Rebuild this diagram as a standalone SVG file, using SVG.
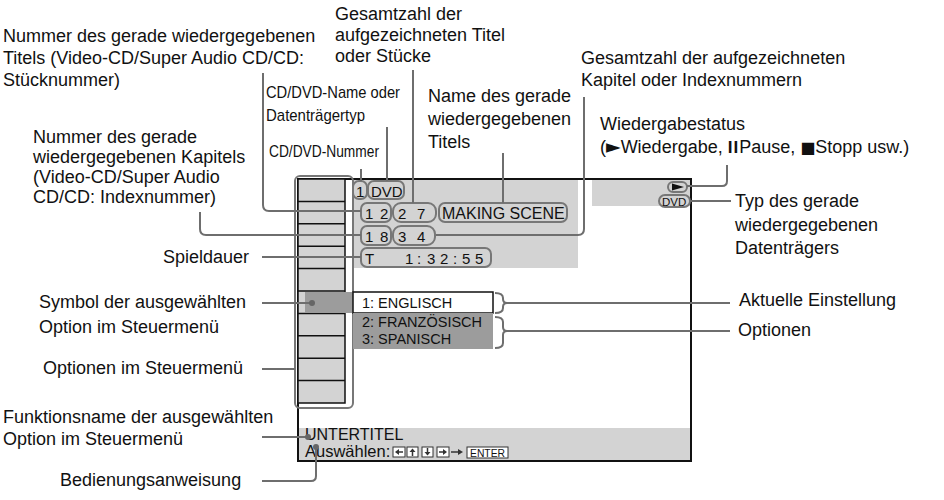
<svg xmlns="http://www.w3.org/2000/svg" width="944" height="500" viewBox="0 0 944 500">
<style>
.lbl{font-family:"Liberation Sans",Arial,sans-serif;font-size:18px;fill:#111}
.scr{font-family:"Liberation Sans",Arial,sans-serif;font-size:15px;fill:#111}
.cond{font-family:"Liberation Sans",Arial,sans-serif;fill:#111}
.sym{font-family:"DejaVu Sans",sans-serif}
.pill{fill:none;stroke:#777;stroke-width:2}
.con{fill:none;stroke:#6e6e6e;stroke-width:2;stroke-linejoin:round}
.dot{fill:#666}
.cellline{stroke:#111;stroke-width:1.5}
.key{fill:#fff;stroke:#333;stroke-width:1}
.keyg{fill:#333}
</style>
<rect width="944" height="500" fill="#fff"/>

<g id="screen">
  <rect x="298" y="179" width="393" height="282" fill="#fff" stroke="#111" stroke-width="2"/>
  <rect x="352" y="180" width="226" height="88" fill="#d3d3d3"/>
  <rect x="592" y="180" width="98" height="26" fill="#d3d3d3"/>
  <rect x="299" y="428" width="391" height="32" fill="#d3d3d3"/>
</g>

<g id="menu-column">
  <rect x="295" y="176" width="58" height="232" rx="5" class="pill"/>
  <rect x="298" y="179" width="47" height="224" fill="#d3d3d3" stroke="#111" stroke-width="1.5"/>
  <g class="cellline">
    <line x1="298" y1="201.4" x2="345" y2="201.4"/>
    <line x1="298" y1="223.8" x2="345" y2="223.8"/>
    <line x1="298" y1="246.2" x2="345" y2="246.2"/>
    <line x1="298" y1="268.6" x2="345" y2="268.6"/>
    <line x1="298" y1="291" x2="345" y2="291"/>
    <line x1="298" y1="313.4" x2="345" y2="313.4"/>
    <line x1="298" y1="335.8" x2="345" y2="335.8"/>
    <line x1="298" y1="358.2" x2="345" y2="358.2"/>
    <line x1="298" y1="380.6" x2="345" y2="380.6"/>
  </g>
  <rect x="305" y="292" width="48" height="21" fill="#9c9c9c"/>
</g>

<g id="options">
  <rect x="353" y="292" width="140" height="21" fill="#fff" stroke="#111" stroke-width="1.5"/>
  <rect x="353" y="313" width="140" height="36" fill="#9c9c9c"/>
  <text class="scr" x="362" y="308" style="font-size:14.5px">1: ENGLISCH</text>
  <text class="scr" x="362" y="327" style="font-size:14.5px">2: FRANZÖSISCH</text>
  <text class="scr" x="362" y="344" style="font-size:14.5px">3: SPANISCH</text>
</g>

<g id="display-info">
  <rect x="353" y="181" width="14" height="18" rx="6" class="pill"/>
  <text class="scr" x="356" y="197">1</text>
  <rect x="368" y="181" width="36" height="18" rx="6" class="pill"/>
  <text class="scr" x="371" y="197">DVD</text>

  <rect x="361" y="203" width="30" height="19" rx="6" class="pill"/>
  <text class="scr" x="365 380" y="219">12</text>
  <rect x="393" y="203" width="43" height="19" rx="8" class="pill"/>
  <text class="scr" x="398 417" y="219">27</text>
  <rect x="439" y="203" width="128" height="19" rx="6" class="pill"/>
  <text class="scr" x="442" y="219" style="font-size:16px">MAKING SCENE</text>

  <rect x="361" y="226" width="30" height="19" rx="6" class="pill"/>
  <text class="scr" x="365 380" y="242">18</text>
  <rect x="393" y="226" width="42" height="19" rx="8" class="pill"/>
  <text class="scr" x="398 417" y="242">34</text>

  <rect x="361" y="248" width="130" height="19" rx="6" class="pill"/>
  <text class="scr" x="365" y="264">T</text>
  <text class="scr" x="405 417 427 440 453 462 475" y="264">1:32:55</text>

  <rect x="668" y="182" width="19" height="10" rx="5" class="pill"/>
  <polygon points="672,183.5 684,187 672,190.5" fill="#111"/>
  <rect x="659" y="195" width="31" height="12" rx="6" class="pill"/>
  <text class="scr" x="662" y="205.5" style="font-size:11.5px">DVD</text>
</g>

<g id="bottom-panel">
  <text class="scr" x="305" y="440" style="font-size:16px">UNTERTITEL</text>
  <text class="scr" x="305" y="457" style="font-size:16.5px">Auswählen:</text>
  <rect class="key" x="393" y="447" width="12" height="10"/>
  <polygon class="keyg" points="395,452 399,449 399,455"/>
  <line x1="399" y1="452" x2="403" y2="452" stroke="#333" stroke-width="1.5"/>
  <rect class="key" x="407" y="447" width="11" height="10"/>
  <polygon class="keyg" points="412.5,448.5 409.5,452 415.5,452"/>
  <line x1="412.5" y1="452" x2="412.5" y2="456" stroke="#333" stroke-width="1.5"/>
  <rect class="key" x="422" y="447" width="11" height="10"/>
  <polygon class="keyg" points="427.5,455.5 424.5,452 430.5,452"/>
  <line x1="427.5" y1="448" x2="427.5" y2="452" stroke="#333" stroke-width="1.5"/>
  <rect class="key" x="437" y="447" width="12" height="10"/>
  <polygon class="keyg" points="447,452 443,449 443,455"/>
  <line x1="439" y1="452" x2="443" y2="452" stroke="#333" stroke-width="1.5"/>
  <line x1="451" y1="452" x2="458" y2="452" stroke="#333" stroke-width="1.5"/>
  <polygon class="keyg" points="463,452 458,449 458,455"/>
  <rect class="key" x="467" y="447" width="41" height="11"/>
  <text class="cond" x="470" y="456.5" style="font-size:11px" textLength="35" lengthAdjust="spacingAndGlyphs">ENTER</text>
</g>

<g id="connectors">
  <g class="con">
    <path d="M263,73 V205 Q263,211 269,211 H361"/>
    <path d="M200,212 V229 Q200,235 206,235 H361"/>
    <path d="M262,257 H361"/>
    <path d="M262,303 H312"/>
    <path d="M262,369 H295"/>
    <path d="M262,437 H308"/>
    <path d="M262,481 H311 Q316,481 316,476 V447"/>
    <path d="M413,70 V203"/>
    <path d="M387,127 V181"/>
    <path d="M361,169 V181"/>
    <path d="M503,153 V203"/>
    <path d="M584,97 V229 Q584,235 578,235 H436"/>
    <path d="M687,186 H722 Q727,186 727,181 V165"/>
    <path d="M690,201 H731"/>
    <path d="M495,293 Q503,293 503,298 V299 Q503,303 507,303 Q503,303 503,307 V308 Q503,313 495,313"/>
    <path d="M507,303 H730"/>
    <path d="M495,317 Q503,317 503,322 V327 Q503,331 507,331 Q503,331 503,335 V343 Q503,348 495,348"/>
    <path d="M507,331 H730"/>
  </g>
  <circle class="dot" cx="312" cy="303" r="3"/>
  <circle class="dot" cx="308" cy="437" r="3"/>
  <circle class="dot" cx="316" cy="447" r="3"/>
</g>

<g id="label-title-number">
  <text class="lbl" x="3" y="42">Nummer des gerade wiedergegebenen</text>
  <text class="lbl" x="3" y="64">Titels (Video-CD/Super Audio CD/CD:</text>
  <text class="lbl" x="3" y="86">Stücknummer)</text>
</g>
<g id="label-total-titles">
  <text class="lbl" x="335" y="20">Gesamtzahl der</text>
  <text class="lbl" x="335" y="41">aufgezeichneten Titel</text>
  <text class="lbl" x="335" y="62">oder Stücke</text>
</g>
<g id="label-total-chapters">
  <text class="lbl" x="581" y="64">Gesamtzahl der aufgezeichneten</text>
  <text class="lbl" x="581" y="86">Kapitel oder Indexnummern</text>
</g>
<g id="label-disc-name">
  <text class="cond" x="266" y="98" style="font-size:17px" textLength="134" lengthAdjust="spacingAndGlyphs">CD/DVD-Name oder</text>
  <text class="cond" x="266" y="121" style="font-size:17px" textLength="99" lengthAdjust="spacingAndGlyphs">Datenträgertyp</text>
</g>
<g id="label-disc-number">
  <text class="cond" x="269" y="157" style="font-size:16px" textLength="110" lengthAdjust="spacingAndGlyphs">CD/DVD-Nummer</text>
</g>
<g id="label-title-name">
  <text class="lbl" x="428" y="102">Name des gerade</text>
  <text class="lbl" x="428" y="125">wiedergegebenen</text>
  <text class="lbl" x="428" y="148">Titels</text>
</g>
<g id="label-playback-status">
  <text class="lbl" x="600" y="130">Wiedergabestatus</text>
  <text class="lbl" x="600" y="153">(<tspan class="sym" style="font-size:19px">►</tspan>Wiedergabe, <tspan style="font-weight:bold;font-size:17px;letter-spacing:1px">II</tspan>Pause, <tspan class="sym" style="font-size:16px">■</tspan>Stopp usw.)</text>
</g>
<g id="label-disc-type">
  <text class="lbl" x="735" y="207">Typ des gerade</text>
  <text class="lbl" x="735" y="230.5">wiedergegebenen</text>
  <text class="lbl" x="735" y="254">Datenträgers</text>
</g>
<g id="label-chapter-number">
  <text class="lbl" x="33" y="143">Nummer des gerade</text>
  <text class="lbl" x="33" y="163">wiedergegebenen Kapitels</text>
  <text class="lbl" x="33" y="183">(Video-CD/Super Audio</text>
  <text class="lbl" x="33" y="203">CD/CD: Indexnummer)</text>
</g>
<g id="label-playing-time">
  <text class="lbl" x="163" y="263">Spieldauer</text>
</g>
<g id="label-selected-icon">
  <text class="lbl" x="39" y="308">Symbol der ausgewählten</text>
  <text class="lbl" x="39" y="333">Option im Steuermenü</text>
</g>
<g id="label-menu-items">
  <text class="lbl" x="43" y="374">Optionen im Steuermenü</text>
</g>
<g id="label-function-name">
  <text class="lbl" x="3" y="423">Funktionsname der ausgewählten</text>
  <text class="lbl" x="3" y="445">Option im Steuermenü</text>
</g>
<g id="label-operation">
  <text class="lbl" x="60" y="486">Bedienungsanweisung</text>
</g>
<g id="label-current-setting">
  <text class="lbl" x="739" y="306">Aktuelle Einstellung</text>
</g>
<g id="label-options">
  <text class="lbl" x="738" y="336">Optionen</text>
</g>
</svg>
